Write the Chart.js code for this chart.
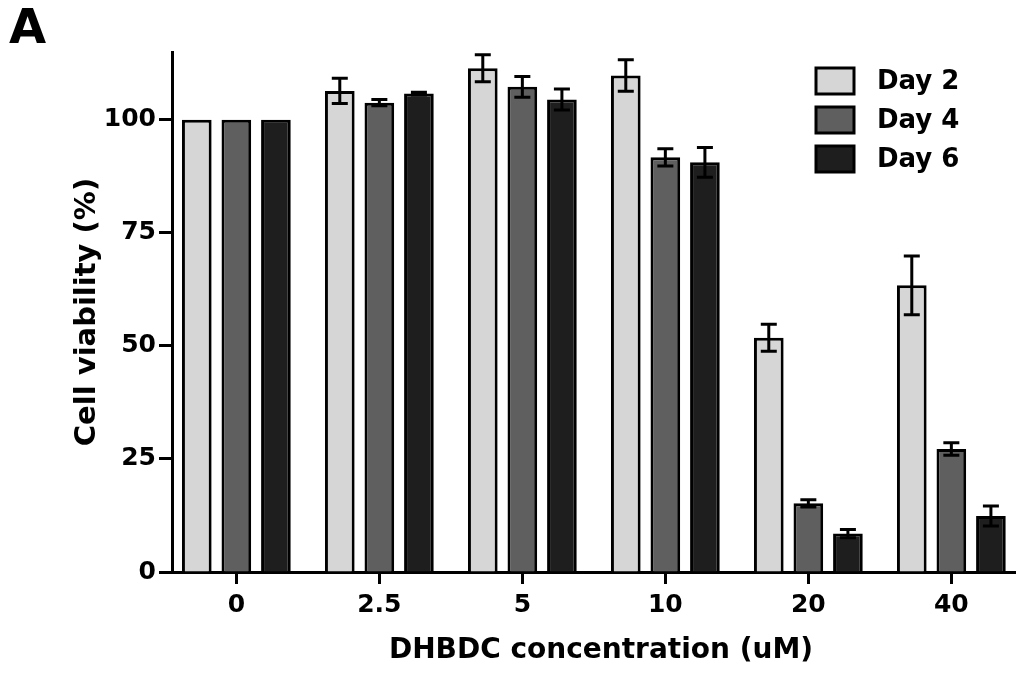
<!DOCTYPE html>
<html>
<head>
<meta charset="utf-8">
<script src="https://cdn.jsdelivr.net/npm/chart.js@4/dist/chart.umd.min.js"></script>
<style>
	html, body { margin: 0; padding: 0; background: #fff; overflow: hidden; }
	#wrap { position: relative; width: 1030px; height: 677px; }
	#panel { position: absolute; left: 9px; top: 2px; font: bold 48px "DejaVu Sans"; line-height: 48px; color: #000; z-index: 2; }
</style>
</head>
<body>
<div id="wrap">
	<div id="panel">A</div>
	<canvas id="viability"></canvas>
</div>
<script>
//
// Cell viability bars
//

//
// Data
//

var categories = ['0', '2.5', '5', '10', '20', '40'];
var seriesNames = ['Day 2', 'Day 4', 'Day 6'];
var day2 = [100, 106.4, 111.4, 109.8, 51.8, 63.4];
var day2Err = [0, 2.8, 3.0, 3.5, 3.0, 6.5];
var day4 = [100, 103.8, 107.3, 91.7, 15.2, 27.2];
var day4Err = [0, 0.7, 2.3, 1.9, 0.8, 1.4];
var day6 = [100, 105.8, 104.5, 90.6, 8.5, 12.4];
var day6Err = [0, 0.3, 2.3, 3.3, 0.9, 2.2];
var yTicks = [0, 25, 50, 75, 100];

var colors = ['#d6d6d6', '#5f5f5f', '#1e1e1e'];
var FONT = '"DejaVu Sans"';

//
// Plugins
//

// Error bars (mean +/- error), drawn over the bars
var errorBars = {
	id: 'errorBars',
	afterDatasetsDraw: function(chart) {
		var ctx = chart.ctx;
		var yScale = chart.scales.y;
		ctx.save();
		ctx.strokeStyle = '#000';
		ctx.lineWidth = 3;
		chart.data.datasets.forEach(function(ds, i) {
			var meta = chart.getDatasetMeta(i);
			meta.data.forEach(function(bar, j) {
				var e = ds.errors[j];
				if (!e) return;
				var v = ds.data[j].y;
				var top = yScale.getPixelForValue(v + e);
				var bot = yScale.getPixelForValue(v - e);
				ctx.beginPath();
				ctx.moveTo(bar.x, top); ctx.lineTo(bar.x, bot);
				ctx.moveTo(bar.x - 8, top); ctx.lineTo(bar.x + 8, top);
				ctx.moveTo(bar.x - 8, bot); ctx.lineTo(bar.x + 8, bot);
				ctx.stroke();
			});
		});
		ctx.restore();
	}
};

// Legend box in the top right corner
var boxLegend = {
	id: 'boxLegend',
	afterDraw: function(chart) {
		var ctx = chart.ctx;
		ctx.save();
		chart.data.datasets.forEach(function(ds, i) {
			var cy = 81 + i * 39;
			ctx.fillStyle = ds.backgroundColor;
			ctx.strokeStyle = '#000';
			ctx.lineWidth = 3;
			ctx.fillRect(816, cy - 13, 38, 26);
			ctx.strokeRect(816, cy - 13, 38, 26);
			ctx.fillStyle = '#000';
			ctx.font = 'bold 26px ' + FONT;
			ctx.textAlign = 'left';
			ctx.textBaseline = 'middle';
			ctx.fillText(ds.label, 877, cy + 1);
		});
		ctx.restore();
	}
};

//
// Chart
//

function toPoints(values) {
	return values.map(function(v, i) { return { x: i, y: v }; });
}

var datasets = [
	{ label: seriesNames[0], data: toPoints(day2), errors: day2Err, backgroundColor: colors[0] },
	{ label: seriesNames[1], data: toPoints(day4), errors: day4Err, backgroundColor: colors[1] },
	{ label: seriesNames[2], data: toPoints(day6), errors: day6Err, backgroundColor: colors[2] }
].map(function(ds) {
	ds.borderColor = '#000';
	ds.borderWidth = 3;
	ds.categoryPercentage = 0.83;
	ds.barPercentage = 0.75;
	return ds;
});

new Chart(document.getElementById('viability'), {
	type: 'bar',
	data: { datasets: datasets },
	plugins: [errorBars, boxLegend],
	options: {
		responsive: true,
		maintainAspectRatio: false,
		animation: false,
		layout: { padding: { top: 52, right: 0, bottom: 0, left: 0 } },
		plugins: {
			legend: { display: false },
			tooltip: { enabled: false }
		},
		scales: {
			x: {
				type: 'linear',
				offset: false,
				min: -0.45,
				max: 5.55,
				afterBuildTicks: function(s) {
					s.ticks = categories.map(function(c, i) { return { value: i }; });
				},
				afterFit: function(s) { s.height = 105; },
				ticks: {
					stepSize: 1,
					color: '#000',
					padding: 6,
					font: { family: FONT, weight: 'bold', size: 25 },
					callback: function(v) { return categories[v]; }
				},
				grid: { display: true, offset: false, drawOnChartArea: false, drawTicks: true, tickLength: 12, tickWidth: 3, tickColor: '#000' },
				border: { display: true, width: 3, color: '#000' },
				title: {
					display: true,
					text: 'DHBDC concentration (uM)',
					color: '#000',
					font: { family: FONT, weight: 'bold', size: 28 },
					padding: { top: 0, bottom: 9 }
				}
			},
			y: {
				min: 0,
				max: 115,
				afterBuildTicks: function(s) {
					s.ticks = yTicks.map(function(v) { return { value: v }; });
				},
				afterFit: function(s) { s.width = 172; },
				ticks: {
					color: '#000',
					padding: 3,
					font: { family: FONT, weight: 'bold', size: 25 }
				},
				grid: { display: true, drawOnChartArea: false, drawTicks: true, tickLength: 13, tickWidth: 3, tickColor: '#000' },
				border: { display: true, width: 3, color: '#000' },
				title: {
					display: true,
					text: 'Cell viability (%)',
					color: '#000',
					font: { family: FONT, weight: 'bold', size: 29 },
					padding: { top: 70, bottom: 0 }
				}
			}
		}
	}
});
</script>
</body>
</html>
